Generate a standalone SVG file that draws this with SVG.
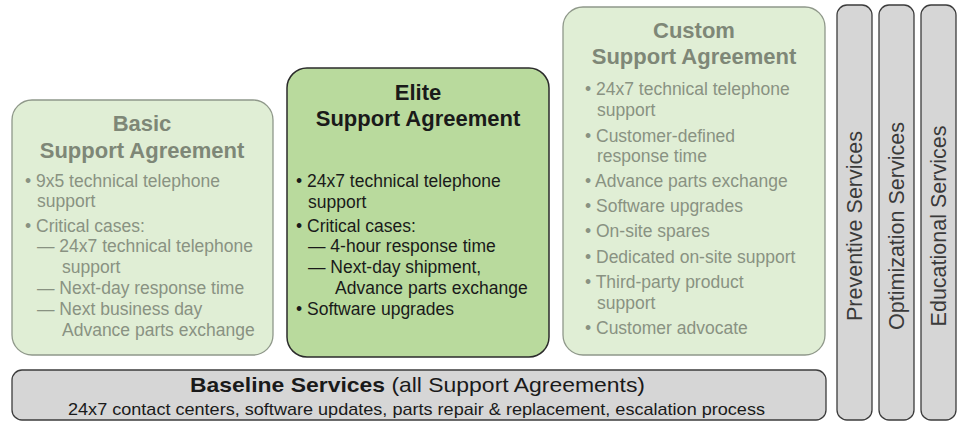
<svg xmlns="http://www.w3.org/2000/svg" width="961" height="426" viewBox="0 0 961 426">
<style>
.light{fill:#e0eed5;stroke:#8f988a;stroke-width:1.3}
.elite{fill:#b9da9d;stroke:#2b2b2b;stroke-width:1.5}
.gray{fill:#d6d6d6;stroke:#3c3c3c;stroke-width:1.3}
text{font-family:"Liberation Sans",Arial,sans-serif}
.lt{fill:#7e8777;font-size:22px;font-weight:bold;text-anchor:middle}
.lb{fill:#899282;font-size:17.5px}
.et{fill:#1a1a1a;font-size:22px;font-weight:bold;text-anchor:middle}
.eb{fill:#1a1a1a;font-size:17.5px}
.vt{fill:#3a3a3a;font-size:21.5px;text-anchor:middle}
</style>
<g id="basic">
<rect class="light" x="12" y="100" width="261" height="255" rx="20"/>
<text class="lt" x="142" y="131">Basic</text>
<text class="lt" x="142" y="158">Support Agreement</text>
<text class="lb" x="25" y="187">• 9x5 technical telephone</text>
<text class="lb" x="37" y="207">support</text>
<text class="lb" x="25" y="232">• Critical cases:</text>
<text class="lb" x="37" y="252">— 24x7 technical telephone</text>
<text class="lb" x="62" y="273">support</text>
<text class="lb" x="37" y="294">— Next-day response time</text>
<text class="lb" x="37" y="315">— Next business day</text>
<text class="lb" x="62" y="336">Advance parts exchange</text>
</g>
<g id="elite">
<rect class="elite" x="287" y="68" width="262" height="289" rx="20"/>
<text class="et" x="418" y="100">Elite</text>
<text class="et" x="418" y="126">Support Agreement</text>
<text class="eb" x="296" y="187">• 24x7 technical telephone</text>
<text class="eb" x="308" y="208">support</text>
<text class="eb" x="296" y="232">• Critical cases:</text>
<text class="eb" x="308" y="252">— 4-hour response time</text>
<text class="eb" x="308" y="273">— Next-day shipment,</text>
<text class="eb" x="335" y="294">Advance parts exchange</text>
<text class="eb" x="296" y="315">• Software upgrades</text>
</g>
<g id="custom">
<rect class="light" x="563" y="7" width="262" height="348" rx="20"/>
<text class="lt" x="694" y="38">Custom</text>
<text class="lt" x="694" y="64">Support Agreement</text>
<text class="lb" x="585" y="95">• 24x7 technical telephone</text>
<text class="lb" x="597" y="116">support</text>
<text class="lb" x="585" y="142">• Customer-defined</text>
<text class="lb" x="597" y="162">response time</text>
<text class="lb" x="585" y="187">• Advance parts exchange</text>
<text class="lb" x="585" y="212">• Software upgrades</text>
<text class="lb" x="585" y="237">• On-site spares</text>
<text class="lb" x="585" y="263">• Dedicated on-site support</text>
<text class="lb" x="585" y="288">• Third-party product</text>
<text class="lb" x="597" y="309">support</text>
<text class="lb" x="585" y="334">• Customer advocate</text>
</g>
<g id="preventive">
<rect class="gray" x="837" y="5" width="35" height="415" rx="10"/>
<text class="vt" transform="translate(862,226) rotate(-90)">Preventive Services</text>
</g>
<g id="optimization">
<rect class="gray" x="879" y="5" width="35" height="415" rx="10"/>
<text class="vt" transform="translate(904,226) rotate(-90)">Optimization Services</text>
</g>
<g id="educational">
<rect class="gray" x="921" y="5" width="35" height="415" rx="10"/>
<text class="vt" transform="translate(946,226) rotate(-90)">Educational Services</text>
</g>
<g id="baseline">
<rect class="gray" x="12" y="370" width="814" height="50" rx="10"/>
<text x="190" y="392" font-size="21" fill="#1a1a1a" textLength="455" lengthAdjust="spacingAndGlyphs"><tspan font-weight="bold">Baseline Services</tspan>  (all Support Agreements)</text>
<text x="68" y="415" font-size="17" fill="#1a1a1a" textLength="697" lengthAdjust="spacingAndGlyphs">24x7 contact centers, software updates, parts repair &amp; replacement, escalation process</text>
</g>
<g id="connectors"></g>
</svg>
